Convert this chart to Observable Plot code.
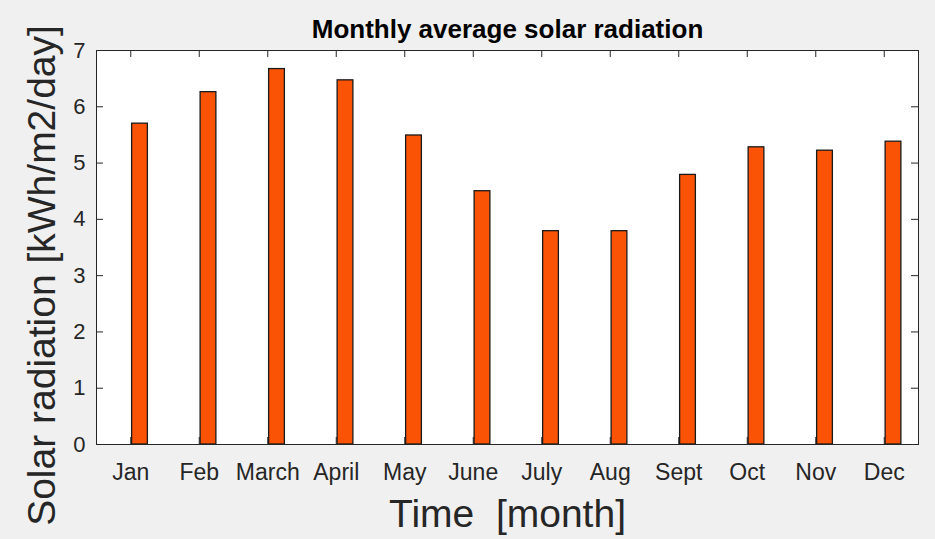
<!DOCTYPE html>
<html>
<head>
<meta charset="utf-8">
<script src="https://cdn.jsdelivr.net/npm/d3@7"></script>
<script src="https://cdn.jsdelivr.net/npm/@observablehq/plot@0.6"></script>
<style>
  html, body { margin: 0; padding: 0; background: #f0f0f0; }
  #chart svg { display: block; }
</style>
</head>
<body>
<div id="chart"></div>
<script>
// ---- data ----
const months = ["Jan", "Feb", "March", "April", "May", "June", "July", "Aug", "Sept", "Oct", "Nov", "Dec"];
const radiation = [5.70, 6.26, 6.67, 6.47, 5.49, 4.50, 3.79, 3.79, 4.79, 5.28, 5.22, 5.38];
const yTicks = [0, 1, 2, 3, 4, 5, 6, 7];
const titleText = "Monthly average solar radiation";
const xLabel = "Time\u00a0 [month]";
const yLabel = "Solar radiation [kWh/m2/day]";

// ---- layout ----
const W = 935, H = 539;
const mL = 96, mR = 17, mT = 50, mB = 95;
const frameW = W - mL - mR, frameH = H - mT - mB;
const tickLen = 7;
const ink = "#262626";

const idx = months.map((_, i) => i + 1);
const data = months.map((m, i) => ({i: i + 1, month: m, value: radiation[i]}));

const chart = Plot.plot({
  width: W,
  height: H,
  marginLeft: mL,
  marginRight: mR,
  marginTop: mT,
  marginBottom: mB,
  style: {background: "#f0f0f0", fontFamily: "'Liberation Sans', Arial, Helvetica, sans-serif", color: ink},
  x: {domain: [0.5, 12.5], axis: null},
  y: {domain: [0, 7], axis: null},
  marks: [
    Plot.frame({fill: "white", stroke: "none"}),
    // inward ticks
    Plot.ruleX(idx, {x: d => d, insetTop: frameH - tickLen, stroke: ink}),
    Plot.ruleX(idx, {x: d => d, insetBottom: frameH - tickLen, stroke: ink}),
    Plot.ruleY(yTicks, {y: d => d, insetRight: frameW - tickLen, stroke: ink}),
    Plot.ruleY(yTicks, {y: d => d, insetLeft: frameW - tickLen, stroke: ink}),
    // bars
    Plot.rect(data, {x1: d => d.i + 0.02, x2: d => d.i + 0.25, y1: 0, y2: "value", fill: "#fa5305", stroke: "#1a1a1a", strokeWidth: 1.3}),
    Plot.frame({stroke: ink, strokeWidth: 1}),
    // tick labels
    Plot.axisX(idx, {x: d => d, anchor: "bottom", tickSize: 0, tickPadding: 19, fontSize: 23, tickFormat: d => months[d - 1], fill: ink, label: null}),
    Plot.axisY(yTicks, {y: d => d, anchor: "left", tickSize: 0, tickPadding: 11, fontSize: 22, tickFormat: d => String(d), fill: ink, label: null}),
    // title & axis labels
    Plot.text([titleText], {text: d => d, frameAnchor: "top", lineAnchor: "bottom", dy: -13, fontSize: 26, fontWeight: "bold", fill: "#000"}),
    Plot.text([xLabel], {text: d => d, frameAnchor: "bottom", lineAnchor: "bottom", dy: 82, fontSize: 39, fill: ink}),
    Plot.text([yLabel], {text: d => d, frameAnchor: "left", textAnchor: "middle", lineAnchor: "bottom", rotate: -90, dx: -42, dy: 28, fontSize: 39, fill: ink})
  ]
});
document.getElementById("chart").appendChild(chart);
</script>
</body>
</html>
